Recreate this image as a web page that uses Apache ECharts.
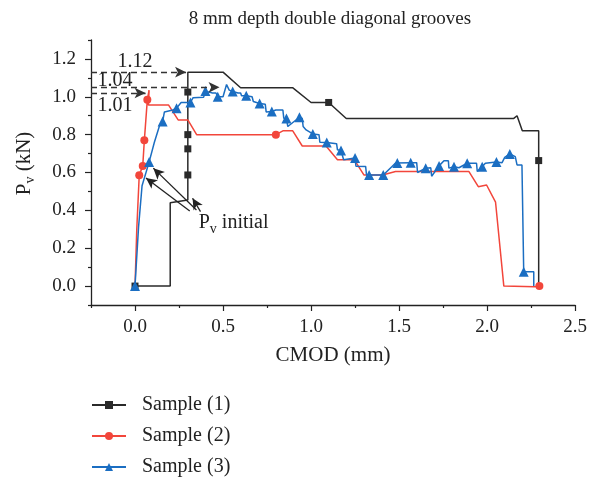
<!DOCTYPE html>
<html><head><meta charset="utf-8">
<script src="https://cdn.jsdelivr.net/npm/echarts@6/dist/echarts.min.js"></script>
<style>html,body{margin:0;padding:0;background:#fff}#c{width:590px;height:477px}</style>
</head><body><div id="c"></div>
<script>
const chartTitle = '8 mm depth double diagonal grooves';
const seriesNames = ['Sample (1)', 'Sample (2)', 'Sample (3)'];
const xMajorTicks = [0, 0.5, 1.0, 1.5, 2.0, 2.5];
const xMinorTicks = [-0.25, 0.25, 0.75, 1.25, 1.75, 2.25];
const yMajorTicks = [0, 0.2, 0.4, 0.6, 0.8, 1.0, 1.2];
const yMinorTicks = [-0.1, 0.1, 0.3, 0.5, 0.7, 0.9, 1.1, 1.3];

// [CMOD (mm), Pv (kN), marker shown (1) or not (0)]
const sample1 = [
  [0, 0, 1], [0.2, 0, 0], [0.2, 0.44, 0], [0.3, 0.455, 0], [0.3, 0.587, 1], [0.3, 0.725, 1],
  [0.3, 0.80, 1], [0.3, 1.025, 1], [0.3, 1.13, 0], [0.5, 1.13, 0], [0.6, 1.048, 0], [0.895, 1.048, 0],
  [1.0, 0.97, 0], [1.1, 0.97, 1], [1.2, 0.885, 0], [2.15, 0.885, 0], [2.17, 0.90, 0], [2.2, 0.82, 0],
  [2.293, 0.82, 0], [2.293, 0.663, 1], [2.293, 0, 0]
];
const sample2 = [
  [0, 0, 0], [0.01, 0.30, 0], [0.024, 0.585, 1], [0.044, 0.635, 1], [0.053, 0.77, 1], [0.07, 0.985, 1],
  [0.08, 1.035, 0], [0.076, 0.957, 0], [0.19, 0.957, 0], [0.245, 0.878, 0], [0.30, 0.878, 0], [0.35, 0.80, 0],
  [0.80, 0.80, 1], [0.84, 0.82, 0], [0.896, 0.82, 0], [0.95, 0.74, 0], [1.085, 0.74, 0], [1.15, 0.667, 0],
  [1.246, 0.667, 0], [1.30, 0.587, 0], [1.406, 0.587, 0], [1.48, 0.605, 0], [1.897, 0.605, 0], [1.95, 0.525, 0],
  [1.997, 0.534, 0], [2.048, 0.443, 0], [2.095, 0, 0], [2.27, -0.003, 0], [2.297, 0, 1]
];
const sample3 = [
  [0, 0, 1], [0.02, 0.31, 0], [0.04, 0.53, 0], [0.08, 0.655, 1], [0.11, 0.76, 0], [0.14, 0.85, 0],
  [0.157, 0.87, 1], [0.167, 0.92, 0], [0.215, 0.93, 0], [0.236, 0.94, 1], [0.262, 0.97, 0], [0.30, 0.97, 0],
  [0.315, 0.97, 1], [0.33, 0.995, 0], [0.39, 0.998, 0], [0.40, 1.03, 1], [0.44, 1.02, 0], [0.46, 1.02, 0],
  [0.47, 1.0, 1], [0.50, 1.0, 0], [0.52, 1.065, 0], [0.535, 1.035, 0], [0.555, 1.028, 1], [0.585, 1.02, 0],
  [0.60, 1.02, 0], [0.605, 1.005, 0], [0.632, 1.005, 1], [0.665, 1.0, 0], [0.672, 0.975, 0], [0.708, 0.965, 1],
  [0.74, 0.96, 0], [0.745, 0.92, 0], [0.777, 0.922, 1], [0.80, 0.93, 0], [0.84, 0.93, 0], [0.845, 0.887, 0],
  [0.86, 0.885, 1], [0.868, 0.843, 0], [0.934, 0.892, 1], [0.95, 0.885, 0], [0.955, 0.843, 0], [0.972, 0.825, 0],
  [1.01, 0.804, 1], [1.045, 0.80, 0], [1.05, 0.76, 0], [1.089, 0.758, 1], [1.145, 0.752, 0], [1.15, 0.72, 0],
  [1.17, 0.716, 1], [1.18, 0.716, 0], [1.185, 0.667, 0], [1.25, 0.676, 1], [1.255, 0.633, 0], [1.31, 0.632, 0],
  [1.315, 0.587, 0], [1.33, 0.587, 1], [1.41, 0.587, 1], [1.46, 0.632, 0], [1.48, 0.65, 0], [1.49, 0.65, 1],
  [1.566, 0.652, 1], [1.60, 0.652, 0], [1.605, 0.60, 0], [1.651, 0.623, 1], [1.68, 0.625, 0], [1.685, 0.58, 0],
  [1.727, 0.635, 1], [1.755, 0.662, 0], [1.78, 0.662, 0], [1.783, 0.623, 0], [1.812, 0.631, 1], [1.84, 0.625, 0],
  [1.887, 0.649, 1], [1.94, 0.649, 0], [1.944, 0.605, 0], [1.972, 0.631, 1], [1.99, 0.649, 0], [2.053, 0.655, 1],
  [2.085, 0.652, 0], [2.10, 0.68, 0], [2.129, 0.698, 1], [2.16, 0.684, 0], [2.17, 0.64, 0], [2.198, 0.64, 0],
  [2.208, 0.076, 1], [2.265, 0.076, 0], [2.265, 0, 0]
];

// peak annotations: label text, dashed-line level, arrow tip CMOD, label position
const peakTexts = ['1.12', '1.04', '1.01'];
const peakLevels = [1.13, 1.05, 1.02];
const peakTipX = [0.29, 0.48, 0.06];
const peakTextPos = [[0.0, 1.185], [-0.113, 1.085], [-0.113, 0.952]];
// "Pv initial" arrows: [tail, head]
const initialArrows = [
  [[0.311, 0.397], [0.062, 0.571]],
  [[0.349, 0.402], [0.104, 0.623]],
  [[0.372, 0.393], [0.327, 0.464]]
];
const initialTextPos = [0.362, 0.333];

const FONT = 'Liberation Serif';
const colors = ['#2a2a2a', '#f2463b', '#1b6ec2'];
const symbols = ['rect', 'circle', 'triangle'];
const symbolSizes = [7, 8, 10];

function toData(arr) {
  return arr.map(p => p[2] ? { value: [p[0], p[1]] } : { value: [p[0], p[1]], symbol: 'none' });
}

const chart = echarts.init(document.getElementById('c'), null, { renderer: 'canvas' });

const series = [sample1, sample2, sample3].map((s, i) => ({
  name: seriesNames[i],
  type: 'line',
  xAxisIndex: 0, yAxisIndex: 0,
  data: toData(s),
  showSymbol: true,
  showAllSymbol: true,
  symbol: symbols[i],
  symbolSize: symbolSizes[i],
  color: colors[i],
  lineStyle: { width: 1.5, color: colors[i] },
  itemStyle: { color: colors[i] },
  animation: false,
  z: 2 + i
}));

series[0].markLine = {
  silent: true,
  animation: false,
  symbol: ['none', 'arrow'],
  symbolSize: [8, 11],
  label: { show: false },
  data: peakTexts.map((t, i) => [
    { coord: [-0.25, peakLevels[i]], lineStyle: { type: [6, 4], color: '#333', width: 1.3 } },
    { coord: [peakTipX[i], peakLevels[i]] }
  ]).concat(initialArrows.map(a => [
    { coord: a[0], lineStyle: { type: 'solid', color: '#222', width: 1.3 } },
    { coord: a[1] }
  ]))
};
series[0].markPoint = {
  silent: true,
  animation: false,
  symbol: 'circle',
  symbolSize: 0,
  data: peakTexts.map((t, i) => ({
    coord: peakTextPos[i],
    label: { show: true, position: 'inside', formatter: t, color: '#222', fontSize: 20, fontFamily: FONT }
  })).concat([{
    coord: initialTextPos,
    label: {
      show: true, position: 'right', distance: 0,
      formatter: '{p|P}{s|v}{p| initial}',
      rich: {
        p: { fontSize: 20, fontFamily: FONT, color: '#222', lineHeight: 22 },
        s: { fontSize: 14, fontFamily: FONT, color: '#222', lineHeight: 14, padding: [12, 0, 0, 0] }
      }
    }
  }])
};

const axisLine = { show: true, onZero: false, lineStyle: { color: '#222', width: 1.3 } };

const option = {
  backgroundColor: '#fff',
  animation: false,
  title: {
    text: chartTitle,
    left: 325, top: 5, textAlign: 'center',
    textStyle: { fontFamily: FONT, fontSize: 19, fontWeight: 'normal', color: '#222' }
  },
  grid: { left: 91, right: 13, top: 40, bottom: 172, containLabel: false },
  legend: {
    orient: 'vertical',
    left: 91, top: 395, padding: 0,
    itemWidth: 34, itemHeight: 10, itemGap: 11,
    textStyle: { fontFamily: FONT, fontSize: 20, color: '#222', padding: [0, 0, 0, 11] },
    data: seriesNames
  },
  xAxis: [{
    type: 'value', min: -0.25, max: 2.5,
    position: 'bottom',
    name: 'CMOD (mm)', nameLocation: 'middle', nameGap: 40,
    nameTextStyle: { fontFamily: FONT, fontSize: 21, color: '#222' },
    axisLine: axisLine,
    axisTick: { show: true, inside: false, length: 6, customValues: xMajorTicks, lineStyle: { color: '#222', width: 1.2 } },
    axisLabel: { show: true, customValues: xMajorTicks, formatter: v => v.toFixed(1), fontFamily: FONT, fontSize: 19, color: '#222', margin: 13 },
    splitLine: { show: false }
  }, {
    type: 'value', min: -0.25, max: 2.5,
    position: 'bottom',
    axisLine: { show: false, onZero: false },
    axisTick: { show: true, inside: false, length: 3, customValues: xMinorTicks, lineStyle: { color: '#222', width: 1.2 } },
    axisLabel: { show: false },
    splitLine: { show: false }
  }],
  yAxis: [{
    type: 'value', min: -0.1, max: 1.3,
    position: 'left',
    name: '{p|P}{s|v}{p| (kN)}', nameLocation: 'middle', nameGap: 56, nameRotate: 90,
    nameTextStyle: {
      padding: [0, 0, 0, 18],
      rich: {
        p: { fontSize: 21, fontFamily: FONT, color: '#222', lineHeight: 22 },
        s: { fontSize: 14, fontFamily: FONT, color: '#222', lineHeight: 14, padding: [12, 0, 0, 0] }
      }
    },
    axisLine: axisLine,
    axisTick: { show: true, inside: false, length: 6, customValues: yMajorTicks, lineStyle: { color: '#222', width: 1.2 } },
    axisLabel: { show: true, customValues: yMajorTicks, formatter: v => v.toFixed(1), fontFamily: FONT, fontSize: 19, color: '#222', margin: 15 },
    splitLine: { show: false }
  }, {
    type: 'value', min: -0.1, max: 1.3,
    position: 'left',
    axisLine: { show: false, onZero: false },
    axisTick: { show: true, inside: false, length: 3, customValues: yMinorTicks, lineStyle: { color: '#222', width: 1.2 } },
    axisLabel: { show: false },
    splitLine: { show: false }
  }],
  series: series
};
chart.setOption(option);
</script>
</body></html>
